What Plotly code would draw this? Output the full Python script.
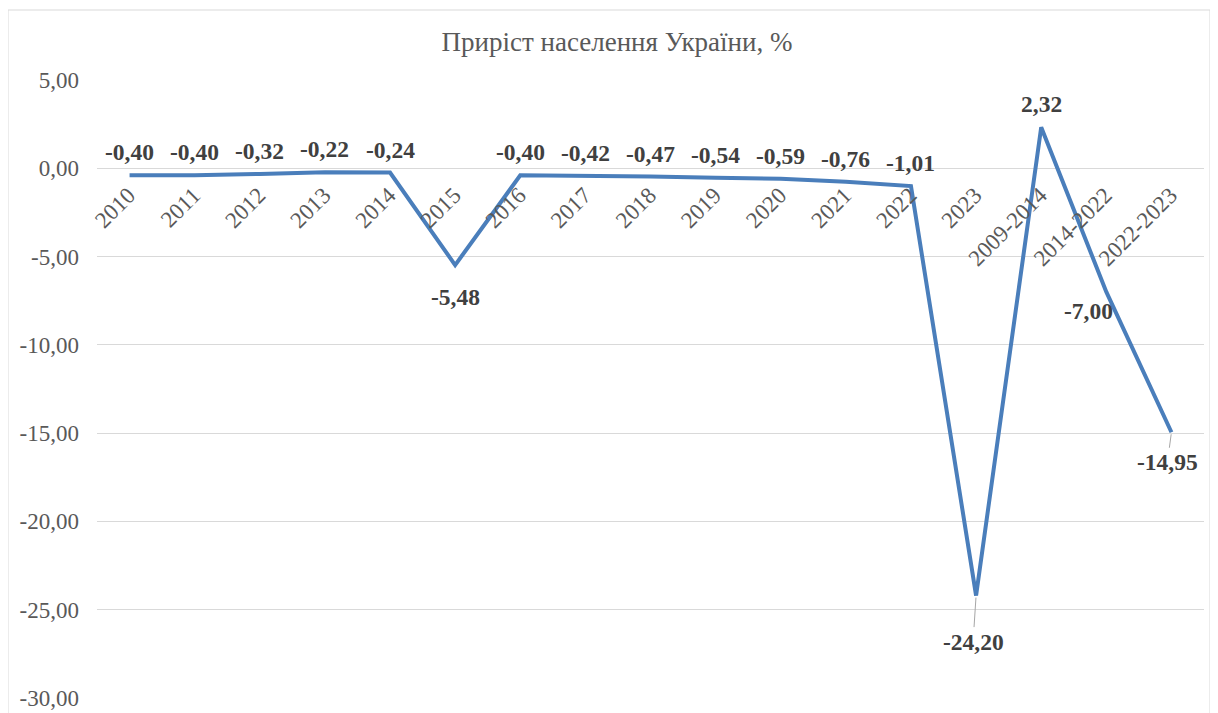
import plotly.graph_objects as go

categories = ["2010", "2011", "2012", "2013", "2014", "2015", "2016", "2017", "2018",
              "2019", "2020", "2021", "2022", "2023", "2009-2014", "2014-2022", "2022-2023"]
growth = [-0.40, -0.40, -0.32, -0.22, -0.24, -5.48, -0.40, -0.42, -0.47,
          -0.54, -0.59, -0.76, -1.01, -24.20, 2.32, -7.00, -14.95]
y_ticks = [5, 0, -5, -10, -15, -20, -25, -30]
y_tick_labels = ["5,00", "0,00", "-5,00", "-10,00", "-15,00", "-20,00", "-25,00", "-30,00"]
title_text = "Приріст населення України, %"

FONT = "Liberation Serif"
GREY = "#595959"
LINE = "#4a7ebb"

# page body has an 8px margin: figure origin sits at (8, 8) of the window
W, H = 1210, 705
PL, PR, PT, PB = 89, 1196, 72, 690  # plot area in figure pixels

# label offsets in pixels (dx, dy; dy positive = down), leader flag
label_offsets = {i: (0, -23, False) for i in range(len(categories))}
label_offsets[5] = (0, 32, False)
label_offsets[13] = (-3, 46, True)
label_offsets[15] = (-18, 19, False)
label_offsets[16] = (-4, 30, True)

idx = list(range(len(categories)))

fig = go.Figure()
fig.add_trace(go.Scatter(
    x=idx, y=growth, mode="lines",
    line=dict(color=LINE, width=4), hoverinfo="skip", showlegend=False,
))

annotations = []
for i, v in enumerate(growth):
    dx, dy, leader = label_offsets[i]
    txt = "<b>" + f"{v:.2f}".replace(".", ",") + "</b>"
    if leader:
        annotations.append(dict(
            x=i, y=v, xref="x", yref="y", text=txt, showarrow=True,
            ax=dx, ay=dy, arrowhead=0, arrowwidth=1, arrowcolor="#a6a6a6",
            standoff=2, font=dict(family=FONT, size=23.5, color="#404040"),
        ))
    else:
        annotations.append(dict(
            x=i, y=v, xref="x", yref="y", text=txt, showarrow=False,
            xshift=dx, yshift=-dy, font=dict(family=FONT, size=23.5, color="#404040"),
        ))

pw, ph = PR - PL, PB - PT
fig.update_layout(
    width=W, height=H,
    margin=dict(l=PL, r=W - PR, t=PT, b=H - PB, autoexpand=False),
    paper_bgcolor="white", plot_bgcolor="white",
    title=dict(text=title_text, x=609 / W, xref="container", xanchor="center",
               y=1 - 34 / H, yref="container", yanchor="middle",
               font=dict(family=FONT, size=27, color=GREY)),
    xaxis=dict(
        range=[-0.5, len(categories) - 0.5], automargin=False,
        tickmode="array", tickvals=idx, ticktext=categories,
        tickangle=-45, anchor="free", position=30 / 35,
        showgrid=False, zeroline=False, showline=False, ticks="",
        ticklabelshift=-1, ticklabelstandoff=8,
        tickfont=dict(family=FONT, size=23, color=GREY),
    ),
    yaxis=dict(
        range=[-30, 5], automargin=False,
        tickmode="array", tickvals=y_ticks, ticktext=y_tick_labels,
        showgrid=True, gridcolor="#d9d9d9", gridwidth=1, zeroline=False,
        showline=False, ticks="", ticklabelstandoff=17,
        tickfont=dict(family=FONT, size=23, color=GREY),
    ),
    annotations=annotations,
    shapes=[dict(type="rect", xref="paper", yref="paper",
                 x0=(0 - PL) / pw, x1=(1202 - PL) / pw,
                 y0=(PB - 730) / ph, y1=(PB - 2) / ph,
                 line=dict(color="#d9d9d9", width=1), fillcolor="rgba(0,0,0,0)",
                 layer="below")],
)

fig.write_html("out.html")
